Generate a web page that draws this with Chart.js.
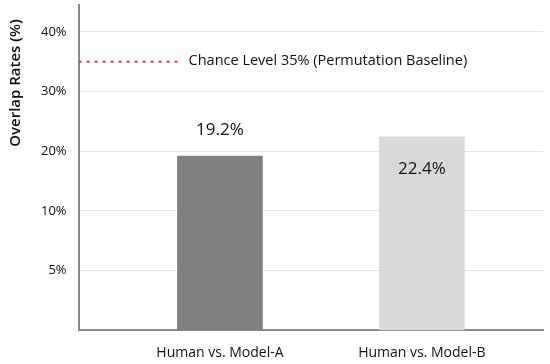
<!DOCTYPE html>
<html>
<head>
<meta charset="UTF-8">
<title>Overlap Rates</title>
<script src="https://cdn.jsdelivr.net/npm/chart.js"></script>
<style>
    html, body { margin: 0; padding: 0; background: #fff; }
    #wrap { width: 550px; height: 364px; }
</style>
</head>
<body>
<div id="wrap"><canvas id="chart"></canvas></div>
<script>
    // data
    const categories = ['Human vs. Model-A', 'Human vs. Model-B'];
    const overlapRates = [19.2, 22.4];
    const barColors = ['#808080', '#d9d9d9'];
    const yTickValues = [5, 10, 20, 30, 40];
    const chanceLevel = 35;
    const chanceLabel = 'Chance Level 35% (Permutation Baseline)';
    const yTitle = 'Overlap Rates (%)';

    const FONT = "'Open Sans', 'Noto Sans', sans-serif";

    // y axis in the original is not linear below 10%: 0-5, 5-10, then 10 per step
    function toSlot(v) {
        if (v <= 5) return v / 5;
        if (v <= 10) return 1 + (v - 5) / 5;
        return 2 + (v - 10) / 10;
    }
    function fromSlot(s) {
        if (s <= 1) return s * 5;
        if (s <= 2) return 5 + (s - 1) * 5;
        return 10 + (s - 2) * 10;
    }

    const Linear = Chart.LinearScale || Chart.registry.getScale('linear');
    class BrokenScale extends Linear {
        getPixelForValue(value) {
            const a = toSlot(this.min), b = toSlot(this.max);
            return this.getPixelForDecimal((toSlot(value) - a) / (b - a));
        }
        getValueForPixel(pixel) {
            const a = toSlot(this.min), b = toSlot(this.max);
            return fromSlot(a + this.getDecimalForPixel(pixel) * (b - a));
        }
    }
    BrokenScale.id = 'broken';
    BrokenScale.defaults = {};
    Chart.register(BrokenScale);

    const labelPlugin = {
        id: 'labels',
        afterDatasetsDraw(chart) {
            const ctx = chart.ctx;
            const meta = chart.getDatasetMeta(0);
            ctx.save();
            ctx.fillStyle = '#111';
            ctx.font = '17px ' + FONT;
            ctx.textAlign = 'center';
            ctx.textBaseline = 'middle';
            meta.data.forEach((bar, i) => {
                const inside = i === 1;
                const y = inside ? bar.y + 32 : bar.y - 26;
                ctx.fillText(overlapRates[i].toFixed(1) + '%', bar.x, y);
            });
            // chance level caption
            const line = chart.getDatasetMeta(1).data;
            const end = line[line.length - 1];
            ctx.font = '14.5px ' + FONT;
            ctx.textAlign = 'left';
            ctx.fillText(chanceLabel, end.x + 11, end.y - 1);
            // y title sits high on the axis in the original
            ctx.translate(16, 83);
            ctx.rotate(-Math.PI / 2);
            ctx.textAlign = 'center';
            ctx.font = '600 15px ' + FONT;
            ctx.fillText(yTitle, 0, 0);
            ctx.restore();
        }
    };

    new Chart(document.getElementById('chart'), {
        data: {
            datasets: [
                {
                    type: 'bar',
                    data: categories.map((c, i) => ({ x: i, y: overlapRates[i] })),
                    backgroundColor: barColors,
                    barThickness: 85
                },
                {
                    type: 'line',
                    data: [{ x: -0.7, y: chanceLevel }, { x: -0.21, y: chanceLevel }],
                    borderColor: '#e0306a',
                    borderWidth: 2,
                    borderDash: [3, 5],
                    pointRadius: 0
                }
            ]
        },
        options: {
            responsive: true,
            maintainAspectRatio: false,
            animation: false,
            layout: { padding: { top: 5, right: 7, left: 29, bottom: -11 } },
            plugins: {
                legend: { display: false },
                tooltip: { enabled: false }
            },
            scales: {
                x: {
                    type: 'linear',
                    offset: false,
                    min: -0.7,
                    max: 1.6,
                    afterBuildTicks: axis => { axis.ticks = categories.map((c, i) => ({ value: i })); },
                    afterFit: axis => { axis.paddingLeft = 0; axis.paddingRight = 0; },
                    ticks: {
                        callback: v => categories[v],
                        color: '#111',
                        font: { family: FONT, size: 14 },
                        padding: 14,
                        maxRotation: 0,
                        autoSkip: false
                    },
                    grid: { display: false, drawTicks: false, offset: false },
                    border: { display: true, color: '#8a8a8a', width: 2 }
                },
                y: {
                    type: 'broken',
                    min: 0,
                    max: 44.5,
                    afterBuildTicks: axis => { axis.ticks = yTickValues.map(v => ({ value: v })); },
                    afterFit: axis => { axis.paddingTop = 0; axis.paddingBottom = 0; },
                    ticks: {
                        callback: v => v + '%',
                        color: '#111',
                        font: { family: FONT, size: 13 },
                        padding: 12
                    },
                    grid: { color: '#e3e3e3', lineWidth: 1, drawTicks: false },
                    border: { display: true, color: '#8a8a8a', width: 2 }
                }
            }
        },
        plugins: [labelPlugin]
    });
</script>
</body>
</html>
